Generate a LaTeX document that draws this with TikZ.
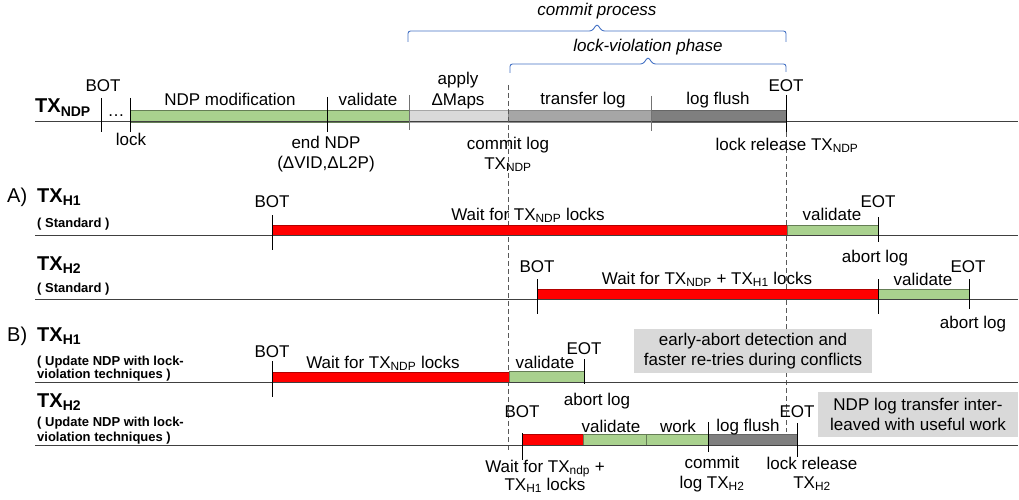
\documentclass[tikz,border=0pt]{standalone}
\usepackage{fontspec}
\setmainfont{Liberation Sans}

\definecolor{barGreen}{HTML}{A9D18E}
\definecolor{barRed}{HTML}{FF0000}
\definecolor{applyGray}{HTML}{D9D9D9}
\definecolor{xferGray}{HTML}{A6A6A6}
\definecolor{flushGray}{HTML}{7F7F7F}
\definecolor{noteGray}{HTML}{D9D9D9}
\definecolor{braceBlue}{HTML}{4472C4}

\newcommand\dn[1]{\textsubscript{#1}}
\newcommand\lblfont{\fontsize{17}{20}\selectfont}

\begin{document}
\begin{tikzpicture}[x=1pt,y=-1pt,
  lbl/.style={font=\lblfont, inner sep=0pt, anchor=base},
  ital/.style={lbl, font=\lblfont\itshape},
  part/.style={font=\fontsize{20}{22}\selectfont, inner sep=0pt, anchor=base west},
  ttl/.style={font=\fontsize{20}{22}\selectfont\bfseries, inner sep=0pt, anchor=base west},
  sub/.style={font=\fontsize{13}{14}\selectfont\bfseries, inner sep=0pt, anchor=base west},
  axis/.style={line width=1pt, black!75},
  tick/.style={line width=1pt, black},
  softtick/.style={line width=1pt, black!55},
  vdash/.style={line width=0.9pt, black!65, dash pattern=on 5pt off 3pt},
  greenbar/.style={fill=barGreen, draw=barGreen!60!black, line width=0.5pt},
  redbar/.style={fill=barRed, draw=barRed!70!black, line width=0.5pt},
  applybar/.style={fill=applyGray, draw=black!35, line width=0.5pt},
  xferbar/.style={fill=xferGray, draw=black!45, line width=0.5pt},
  flushbar/.style={fill=flushGray, draw=black!60, line width=0.5pt},
  brace/.style={braceBlue, line width=0.9pt, rounded corners=2.5pt},
  note/.style={fill=noteGray, inner sep=0pt, align=center, font=\fontsize{17}{19.5}\selectfont}
]
\useasboundingbox (0,0) rectangle (1019,500);

% ---------- commit process / lock-violation brackets ----------
\draw[brace] (408,42) -- (408,31) -- (592,31) -- (597,24) -- (602,31) -- (786,31) -- (786,42);
\node[ital] (cp) at (597,16) {commit process};
\draw[brace] (510,73) -- (510,64) -- (643,64) -- (648,57) -- (653,64) -- (786,64) -- (786,72);
\node[ital] (lvp) at (648,52) {lock-violation phase};

% ---------- TX_NDP ----------
\node[ttl] (tndp) at (35,113) {TX\dn{NDP}};
\filldraw[greenbar] (130,110) rectangle (409,122);
\filldraw[applybar] (409,110) rectangle (508,122);
\filldraw[xferbar] (508,110) rectangle (651,122);
\filldraw[flushbar] (651,110) rectangle (786,122);
\draw[axis] (35,122) -- (1018,122);
\draw[tick] (101,98) -- (101,132);
\draw[tick] (130,98) -- (130,132);
\draw[tick] (327,97) -- (327,132);
\draw[softtick] (409,95) -- (409,130);
\draw[softtick] (651,96) -- (651,131);
\draw[tick] (786,95) -- (786,132);

% shared lock boundaries
\coordinate (cl0) at (508,85);
\coordinate (cl1) at (508,450);
\coordinate (lr0) at (786,132);
\coordinate (lr1) at (786,432);
\draw[vdash] (cl0) -- (cl1);
\draw[vdash] (lr0) -- (lr1);

\node[lbl] (n1) at (103,92) {BOT};
\node[lbl] (n2) at (116,117) {…};
\node[lbl] (n3) at (230,106) {NDP modification};
\node[lbl] (n4) at (368,106) {validate};
\node[lbl] (n5) at (458,85) {apply};
\node[lbl] (n6) at (458,106) {ΔMaps};
\node[lbl] (n7) at (583,105) {transfer log};
\node[lbl] (n8) at (718,105) {log flush};
\node[lbl] (n9) at (786,92) {EOT};
\node[lbl] (n10) at (131,145) {lock};
\node[lbl] (n11) at (326,148) {end NDP};
\node[lbl] (n12) at (326,168) {(ΔVID,ΔL2P)};
\node[lbl] (n13) at (508,149) {commit log};
\node[lbl] (n14) at (508,169) {TX\dn{NDP}};
\node[lbl] (n15) at (787,150) {lock release TX\dn{NDP}};

% ---------- A) standard ----------
\node[part] (pa) at (7,202) {A)};
\node[ttl] (ah1) at (37,202) {TX\dn{H1}};
\node[sub] (ah1s) at (37,227) {( Standard )};
\filldraw[redbar] (272,225) rectangle (787,235);
\filldraw[greenbar] (787,225) rectangle (878,235);
\draw[axis] (35,235) -- (1018,235);
\draw[tick] (272,215) -- (272,250);
\draw[tick] (878,217) -- (878,242);
\node[lbl] (a1) at (272,207) {BOT};
\node[lbl] (a2) at (528,220) {Wait for TX\dn{NDP} locks};
\node[lbl] (a3) at (832,220) {validate};
\node[lbl] (a4) at (878,207) {EOT};
\node[lbl] (a5) at (875,262) {abort log};

\node[ttl] (ah2) at (37,270) {TX\dn{H2}};
\node[sub] (ah2s) at (37,292) {( Standard )};
\filldraw[redbar] (537,289) rectangle (878,299);
\filldraw[greenbar] (878,289) rectangle (969,299);
\draw[axis] (35,299) -- (1018,299);
\draw[tick] (537,279) -- (537,314);
\draw[tick] (878,279) -- (878,314);
\draw[tick] (969,279) -- (969,309);
\node[lbl] (a6) at (537,272) {BOT};
\node[lbl] (a7) at (707,284) {Wait for TX\dn{NDP} + TX\dn{H1} locks};
\node[lbl] (a8) at (923,285) {validate};
\node[lbl] (a9) at (968,272) {EOT};
\node[lbl] (a10) at (973,328) {abort log};

% ---------- B) lock violation ----------
\node[part] (pb) at (7,341) {B)};
\node[ttl] (bh1) at (37,341) {TX\dn{H1}};
\node[sub] (bh1s) at (37,365) {( Update NDP with lock-};
\node[sub] (bh1t) at (37,378) {violation techniques )};
\filldraw[redbar] (272,372) rectangle (509,382);
\filldraw[greenbar] (509,371) rectangle (584,382);
\draw[axis] (35,382) -- (1018,382);
\draw[tick] (272,361) -- (272,397);
\draw[tick] (584,359) -- (584,384);
\node[lbl] (b1) at (272,357) {BOT};
\node[lbl] (b2) at (383,368) {Wait for TX\dn{NDP} locks};
\node[lbl] (b3) at (545,368) {validate};
\node[lbl] (b4) at (584,354) {EOT};
\node[lbl] (b5) at (597,405) {abort log};
\node[note, minimum width=238pt, minimum height=44pt] (nt1) at (753,351)
  {early-abort detection and\\faster re-tries during conflicts};

\node[ttl] (bh2) at (37,407) {TX\dn{H2}};
\node[sub] (bh2s) at (37,426) {( Update NDP with lock-};
\node[sub] (bh2t) at (37,441) {violation techniques )};
\filldraw[redbar] (522,434) rectangle (583,445);
\filldraw[greenbar] (583,434) rectangle (646,445);
\filldraw[greenbar] (646,434) rectangle (708,445);
\filldraw[flushbar] (708,434) rectangle (797,445);
\draw[axis] (35,445) -- (1018,445);
\draw[tick] (522,433) -- (522,460);
\draw[tick] (708,422) -- (708,452);
\draw[tick] (797,423) -- (797,457);
\node[lbl] (b6) at (522,417) {BOT};
\node[lbl] (b7) at (611,432) {validate};
\node[lbl] (b8) at (678,432) {work};
\node[lbl] (b9) at (748,431) {log flush};
\node[lbl] (b10) at (797,417) {EOT};
\node[lbl] (b11) at (545,472) {Wait for TX\dn{ndp} +};
\node[lbl] (b12) at (545,490) {TX\dn{H1} locks};
\node[lbl] (b13) at (712,468) {commit};
\node[lbl] (b14) at (712,488) {log TX\dn{H2}};
\node[lbl] (b15) at (812,469) {lock release};
\node[lbl] (b16) at (812,488) {TX\dn{H2}};
\node[note, minimum width=200pt, minimum height=45pt] (nt2) at (918,414.5)
  {NDP log transfer inter-\\leaved with useful work};
\end{tikzpicture}
\end{document}
